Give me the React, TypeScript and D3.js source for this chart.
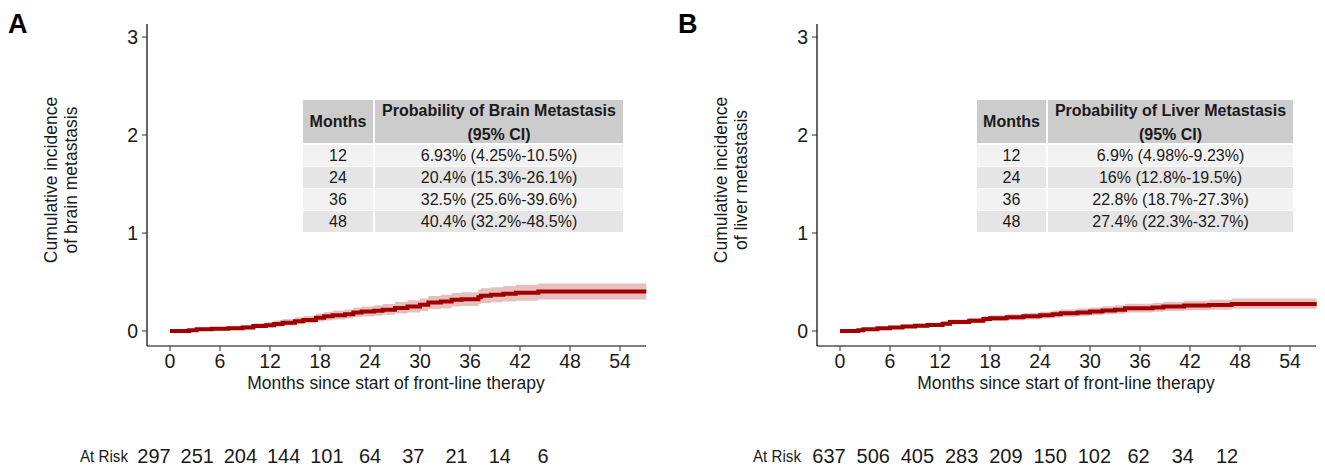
import React from 'react';
import * as d3 from 'd3';

// Cumulative incidence of brain / liver metastasis with 95% CI tables

const X_TICKS = [0, 6, 12, 18, 24, 30, 36, 42, 48, 54];
const Y_TICKS = [0, 1, 2, 3];
const TABLE_MONTHS = ['12', '24', '36', '48'];

// Panel A: brain
const BRAIN_TIME = [0, 2.3, 3.2, 5, 7, 8.7, 10, 11.5, 12.5, 13.5, 15, 16, 17.5, 18.5, 19.5, 21, 22, 23, 24.5, 25.5, 27, 28.5, 30, 31, 32.5, 33.8, 35, 37, 37.3, 38.5, 40, 41.5, 44.2, 57.15];
const BRAIN_EST = [0, 0.007, 0.017, 0.022, 0.028, 0.037, 0.05, 0.06, 0.072, 0.085, 0.1, 0.112, 0.135, 0.15, 0.162, 0.172, 0.19, 0.198, 0.206, 0.218, 0.235, 0.25, 0.268, 0.29, 0.3, 0.318, 0.325, 0.345, 0.36, 0.37, 0.38, 0.39, 0.404, 0.404];
const BRAIN_LO = [0, 0.002, 0.006, 0.009, 0.013, 0.019, 0.028, 0.036, 0.045, 0.055, 0.068, 0.078, 0.096, 0.108, 0.118, 0.127, 0.142, 0.148, 0.155, 0.165, 0.178, 0.19, 0.205, 0.225, 0.233, 0.25, 0.256, 0.272, 0.285, 0.293, 0.302, 0.31, 0.322, 0.322];
const BRAIN_HI = [0, 0.02, 0.035, 0.042, 0.05, 0.062, 0.08, 0.093, 0.108, 0.122, 0.14, 0.152, 0.178, 0.194, 0.207, 0.22, 0.24, 0.25, 0.263, 0.276, 0.295, 0.313, 0.333, 0.358, 0.37, 0.388, 0.396, 0.42, 0.437, 0.447, 0.46, 0.472, 0.485, 0.485];
const BRAIN_TABLE = ['6.93% (4.25%-10.5%)', '20.4% (15.3%-26.1%)', '32.5% (25.6%-39.6%)', '40.4% (32.2%-48.5%)'];
const BRAIN_AT_RISK = [297, 251, 204, 144, 101, 64, 37, 21, 14, 6];

// Panel B: liver
const LIVER_TIME = [0, 2.2, 2.8, 4.5, 6, 7.5, 9, 10.5, 12.3, 13.2, 15.5, 17.2, 18, 20, 22, 24, 25.5, 26.5, 28.5, 30, 31.5, 33, 34.2, 37.5, 38.8, 41.3, 44.3, 47, 57.2];
const LIVER_EST = [0, 0.008, 0.017, 0.027, 0.037, 0.045, 0.054, 0.062, 0.075, 0.092, 0.105, 0.122, 0.13, 0.14, 0.15, 0.162, 0.172, 0.182, 0.19, 0.2, 0.21, 0.218, 0.232, 0.24, 0.25, 0.26, 0.266, 0.276, 0.276];
const LIVER_LO = [0, 0.003, 0.009, 0.016, 0.024, 0.03, 0.037, 0.043, 0.054, 0.069, 0.08, 0.095, 0.102, 0.11, 0.118, 0.129, 0.137, 0.146, 0.153, 0.162, 0.17, 0.177, 0.19, 0.196, 0.204, 0.213, 0.217, 0.227, 0.227];
const LIVER_HI = [0, 0.018, 0.03, 0.042, 0.054, 0.064, 0.074, 0.083, 0.099, 0.118, 0.132, 0.151, 0.16, 0.172, 0.184, 0.197, 0.209, 0.22, 0.23, 0.241, 0.253, 0.262, 0.278, 0.287, 0.298, 0.31, 0.318, 0.332, 0.332];
const LIVER_TABLE = ['6.9% (4.98%-9.23%)', '16% (12.8%-19.5%)', '22.8% (18.7%-27.3%)', '27.4% (22.3%-32.7%)'];
const LIVER_AT_RISK = [637, 506, 405, 283, 209, 150, 102, 62, 34, 12];

const RED = '#a00000';
const FONT = 'Liberation Sans, Arial, Helvetica, sans-serif';
const TXT = '#1a1a1a';

type PanelProps = {
  ox: number;
  letter: string;
  yTitle: string[];
  tableTitle: string;
  tableLeft: number;
  tableDiv: number;
  tableVals: string[];
  time: number[];
  est: number[];
  lo: number[];
  hi: number[];
  atRisk: number[];
  atRiskRange: [number, number];
  atRiskLabelX: number;
};

function Panel(p: PanelProps) {
  const x = d3.scaleLinear().domain([-2.76, 57.12]).range([147, 646]);
  const y = d3.scaleLinear().domain([-0.153, 3.133]).range([346, 24]);

  const pts = p.time.map((t, i) => ({ t, e: p.est[i], l: p.lo[i], h: p.hi[i] }));
  const line = d3.line<any>().x(d => x(d.t)).y(d => y(d.e)).curve(d3.curveStepAfter);
  const band = d3.area<any>().x(d => x(d.t)).y0(d => y(d.l)).y1(d => y(d.h)).curve(d3.curveStepAfter);

  const riskX = d3.scalePoint<number>().domain(d3.range(p.atRisk.length)).range(p.atRiskRange);

  const tRight = 623;
  const rowY = (i: number) => 145 + i * 22;

  return (
    <g transform={`translate(${p.ox},0)`} fontFamily={FONT} fill={TXT}>
      <text x={8} y={33} fontSize={27} fontWeight="bold" fill="#000">{p.letter}</text>

      {/* y title */}
      <text transform="translate(61,180) rotate(-90)" textAnchor="middle" fontSize={17.5}>
        <tspan x={0} dy={-4}>{p.yTitle[0]}</tspan>
        <tspan x={0} dy={20}>{p.yTitle[1]}</tspan>
      </text>

      {/* CI band and curve */}
      <path d={band(pts) || ''} fill={RED} fillOpacity={0.25} />
      <path d={line(pts) || ''} fill="none" stroke={RED} strokeWidth={4} />

      {/* table */}
      <rect x={p.tableLeft} y={100} width={p.tableDiv - p.tableLeft} height={43} fill="#cccccc" />
      <rect x={p.tableDiv + 2} y={100} width={tRight - p.tableDiv - 2} height={43} fill="#cccccc" />
      <text x={(p.tableLeft + p.tableDiv) / 2} y={127} textAnchor="middle" fontSize={16} fontWeight="bold">Months</text>
      <text x={(p.tableDiv + 2 + tRight) / 2} y={116} textAnchor="middle" fontSize={16} fontWeight="bold">{p.tableTitle}</text>
      <text x={(p.tableDiv + 2 + tRight) / 2} y={140} textAnchor="middle" fontSize={16} fontWeight="bold">(95% CI)</text>
      {TABLE_MONTHS.map((m, i) => (
        <g key={m}>
          <rect x={p.tableLeft} y={rowY(i)} width={p.tableDiv - p.tableLeft} height={21} fill={i % 2 === 0 ? '#f2f2f2' : '#e5e5e5'} />
          <rect x={p.tableDiv + 2} y={rowY(i)} width={tRight - p.tableDiv - 2} height={21} fill={i % 2 === 0 ? '#f2f2f2' : '#e5e5e5'} />
          <text x={(p.tableLeft + p.tableDiv) / 2} y={rowY(i) + 16} textAnchor="middle" fontSize={16}>{m}</text>
          <text x={(p.tableDiv + 2 + tRight) / 2} y={rowY(i) + 16} textAnchor="middle" fontSize={16}>{p.tableVals[i]}</text>
        </g>
      ))}

      {/* axes */}
      <line x1={147} x2={147} y1={24} y2={346} stroke="#000" strokeWidth={1.2} />
      <line x1={147} x2={646} y1={346} y2={346} stroke="#000" strokeWidth={1.2} />
      {Y_TICKS.map(v => (
        <g key={v}>
          <line x1={142} x2={147} y1={y(v)} y2={y(v)} stroke="#333" />
          <text x={138} y={y(v) + 7} textAnchor="end" fontSize={19.5}>{v}</text>
        </g>
      ))}
      {X_TICKS.map(v => (
        <g key={v}>
          <line x1={x(v)} x2={x(v)} y1={346} y2={351} stroke="#333" />
          <text x={x(v)} y={368} textAnchor="middle" fontSize={19.5}>{v}</text>
        </g>
      ))}
      <text x={396} y={389} textAnchor="middle" fontSize={17.5}>Months since start of front-line therapy</text>

      {/* at risk row */}
      <text x={p.atRiskLabelX} y={462} fontSize={16} textLength={48} lengthAdjust="spacingAndGlyphs">At Risk</text>
      {p.atRisk.map((n, i) => (
        <text key={i} x={riskX(i)} y={463} textAnchor="middle" fontSize={20}>{n}</text>
      ))}
    </g>
  );
}

export default function App() {
  return (
    <svg width={1325} height={470} style={{ position: 'absolute', left: 0, top: 0, background: '#fff' }}>
      <Panel ox={0} letter="A" yTitle={['Cumulative incidence', 'of brain metastasis']}
        tableTitle="Probability of Brain Metastasis" tableLeft={303} tableDiv={373}
        tableVals={BRAIN_TABLE} time={BRAIN_TIME} est={BRAIN_EST} lo={BRAIN_LO} hi={BRAIN_HI}
        atRisk={BRAIN_AT_RISK} atRiskRange={[154, 543]} atRiskLabelX={80} />
      <Panel ox={670} letter="B" yTitle={['Cumulative incidence', 'of liver metastasis']}
        tableTitle="Probability of Liver Metastasis" tableLeft={307} tableDiv={376}
        tableVals={LIVER_TABLE} time={LIVER_TIME} est={LIVER_EST} lo={LIVER_LO} hi={LIVER_HI}
        atRisk={LIVER_AT_RISK} atRiskRange={[159, 557]} atRiskLabelX={83} />
    </svg>
  );
}
